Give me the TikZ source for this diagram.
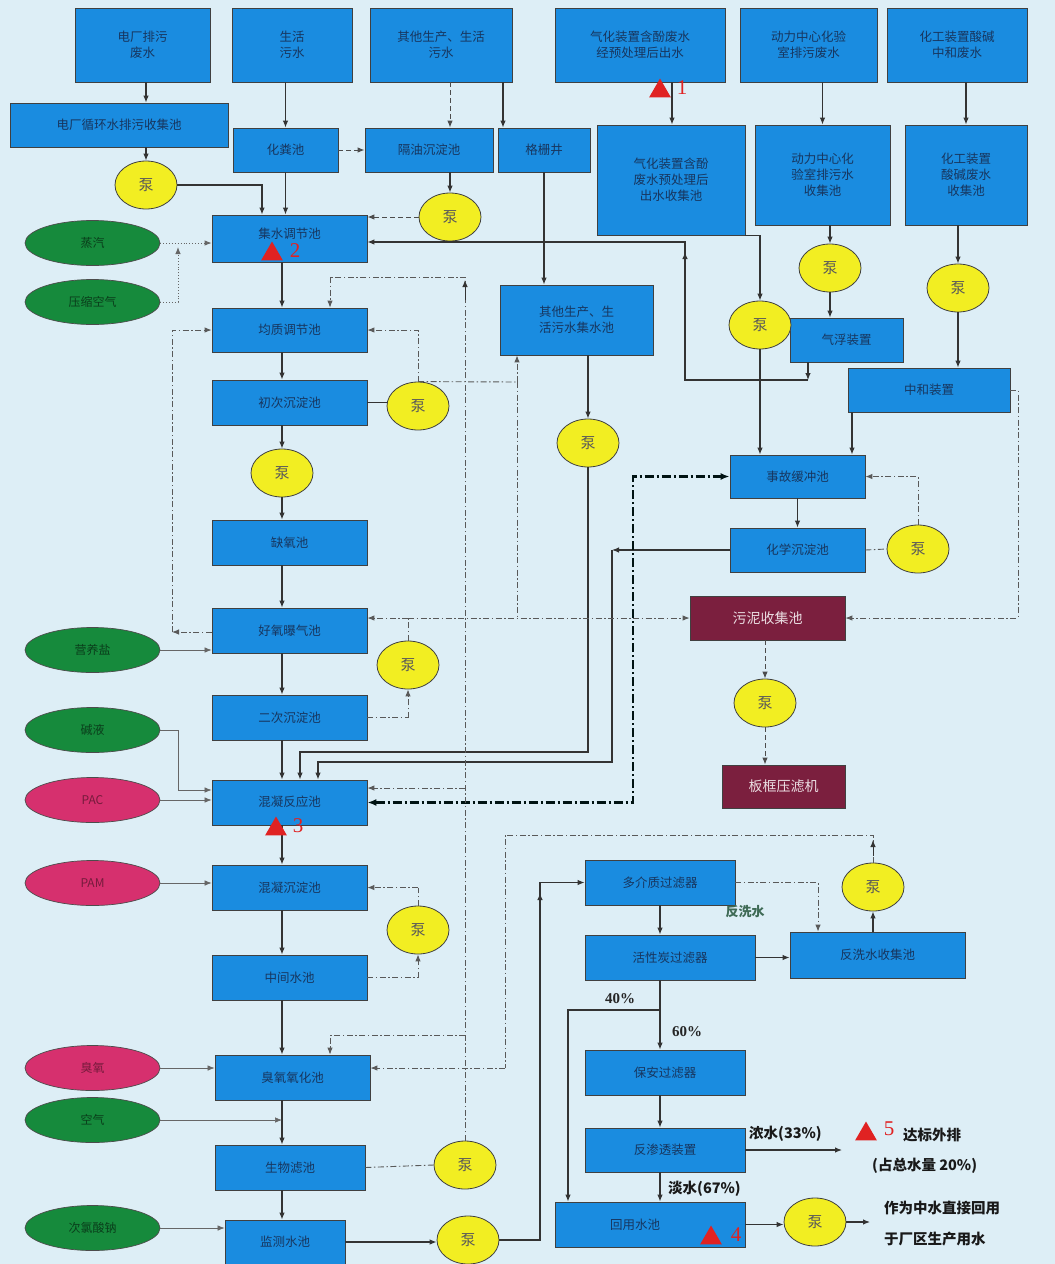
\documentclass[tikz,border=0pt]{standalone}
\usepackage{fontspec}
\setmainfont{Noto Sans CJK SC}
\newfontfamily\lser{Liberation Serif}
\usetikzlibrary{arrows.meta,shapes.geometric,calc}
\definecolor{bg}{HTML}{DDEEF6}
\definecolor{boxblue}{HTML}{1A8CE0}
\definecolor{boxtext}{HTML}{17365F}
\definecolor{pumpy}{HTML}{F2EE22}
\definecolor{ovg}{HTML}{168A3C}
\definecolor{ovp}{HTML}{D6306E}
\definecolor{sludgec}{HTML}{7B1F3E}
\definecolor{lncol}{HTML}{333333}
\definecolor{mkred}{HTML}{E02222}
\definecolor{fxs}{HTML}{3E6A55}
\newcommand{\bx}[6]{\node[box, minimum width=#4pt, minimum height=#5pt] (#1) at (#2,#3) {#6};}
\newcommand{\pp}[3]{\node[pump] (#1) at (#2,#3) {泵};}
\newcommand{\ovg}[4]{\node[ovalg] (#1) at (#2,#3) {#4};}
\newcommand{\ovp}[4]{\node[ovalp] (#1) at (#2,#3) {#4};}
\begin{document}
\begin{tikzpicture}[x=1pt,y=-1pt,
 box/.style={draw=black!75, line width=0.8pt, fill=boxblue, text=boxtext, font=\fontsize{12.5}{16}\selectfont, align=center, inner sep=1pt},
 pump/.style={ellipse, draw=black!75, line width=0.8pt, fill=pumpy, minimum width=62pt, minimum height=48pt, inner sep=0pt, font=\fontsize{15}{15}\selectfont, text=black!65},
 ovalg/.style={ellipse, draw=black!70, line width=0.7pt, fill=ovg, minimum width=135pt, minimum height=45pt, inner sep=0pt, text=black!55!ovg, font=\fontsize{12}{14}\selectfont},
 ovalp/.style={ellipse, draw=black!70, line width=0.7pt, fill=ovp, minimum width=135pt, minimum height=45pt, inner sep=0pt, text=black!45!ovp, font=\fontsize{12}{14}\selectfont},
 sludgebox/.style={draw=black!75, line width=0.8pt, fill=sludgec, text=white!85!sludgec, font=\fontsize{14}{16}\selectfont, inner sep=1pt},
 sl/.style={draw=lncol, line width=1.1pt},
 arr/.style={sl, -{Latex[length=7pt,width=5.5pt]}},
 thinarr/.style={draw=black!60, line width=0.7pt, -{Latex[length=7pt,width=5.5pt]}},
 dd/.style={draw=black!65, line width=0.9pt, dash pattern=on 6pt off 2.5pt on 1.5pt off 2.5pt},
 dda/.style={dd, -{Latex[length=7pt,width=5.5pt]}},
 dsha/.style={draw=black!70, line width=1pt, dash pattern=on 5pt off 3pt, -{Latex[length=7pt,width=5.5pt]}},
 dota/.style={draw=black!60, line width=0.9pt, dotted, -{Latex[length=7pt,width=5.5pt]}},
 hdd/.style={draw=black!85!teal, line width=2.2pt, dash pattern=on 9pt off 3pt on 2pt off 3pt},
 lbl/.style={font=\bfseries\fontsize{14.5}{16}\selectfont, text=black!90, inner sep=0pt},
 tri/.style={regular polygon, regular polygon sides=3, fill=mkred, inner sep=0pt, minimum size=25pt},
 num/.style={font=\lser\fontsize{21}{21}\selectfont, text=mkred, inner sep=0pt}
]
\fill[bg] (0,0) rectangle (1055,1264);
\useasboundingbox (0,0) rectangle (1055,1264);

% top row
\bx{T1}{142.5}{45}{135}{74}{电厂排污\\废水}
\bx{T2}{292}{45}{120}{74}{生活\\污水}
\bx{T3}{441}{45}{142}{74}{其他生产、生活\\污水}
\bx{T4}{640}{45}{170}{74}{气化装置含酚废水\\经预处理后出水}
\bx{T5}{808.5}{45}{137}{74}{动力中心化验\\室排污废水}
\bx{T6}{957}{45}{140}{74}{化工装置酸碱\\中和废水}
% second row
\bx{S1}{119}{125}{218}{44}{电厂循环水排污收集池}
\bx{S2}{285.5}{150}{105}{44}{化粪池}
\bx{S3}{429}{150}{128}{44}{隔油沉淀池}
\bx{S4}{544}{150}{92}{44}{格栅井}
\bx{S5}{671}{180}{148}{110}{气化装置含酚\\废水预处理后\\出水收集池}
\bx{S6}{822.5}{175}{135}{100}{动力中心化\\验室排污水\\收集池}
\bx{S7}{966}{175}{122}{100}{化工装置\\酸碱废水\\收集池}
% middle right
\bx{M1}{576.5}{320}{153}{70}{其他生产、生\\活污水集水池}
\bx{R1}{846.5}{340}{113}{44}{气浮装置}
\bx{R2}{929}{390}{162}{44}{中和装置}
\bx{R3}{797.5}{476.5}{135}{43}{事故缓冲池}
\bx{R4}{797.5}{550}{135}{44}{化学沉淀池}
\node[sludgebox, minimum width=155pt, minimum height=44pt] (U1) at (767.5,618) {污泥收集池};
\node[sludgebox, minimum width=123pt, minimum height=43pt] (U2) at (783.5,786.5) {板框压滤机};
% left column
\bx{L1}{289.5}{238.5}{155}{47}{\raisebox{10pt}{集水调节池}}
\bx{L2}{289.5}{330}{155}{44}{均质调节池}
\bx{L3}{289.5}{402.5}{155}{45}{初次沉淀池}
\bx{L4}{289.5}{542.5}{155}{45}{缺氧池}
\bx{L5}{289.5}{630.5}{155}{45}{好氧曝气池}
\bx{L6}{289.5}{717.5}{155}{45}{二次沉淀池}
\bx{L7}{289.5}{802.5}{155}{45}{\raisebox{3pt}{混凝反应池}}
\bx{L8}{289.5}{887.5}{155}{45}{混凝沉淀池}
\bx{L9}{289.5}{977.5}{155}{45}{中间水池}
\bx{L10}{292.5}{1077.5}{155}{45}{臭氧氧化池}
\bx{L11}{290}{1167.5}{150}{45}{生物滤池}
\bx{L12}{285}{1242}{120}{44}{监测水池}
% bottom right
\bx{B1}{660}{882.5}{150}{45}{多介质过滤器}
\bx{B2}{670}{957.5}{170}{45}{活性炭过滤器}
\bx{B3}{877.5}{955}{175}{46}{反洗水收集池}
\bx{B4}{665}{1072.5}{160}{45}{保安过滤器}
\bx{B5}{665}{1150}{160}{44}{反渗透装置}
\bx{B6}{650}{1224.5}{190}{45}{\hspace*{-30pt}回用水池}
% ovals
\ovg{O1}{92.5}{243}{蒸汽}
\ovg{O2}{92.5}{302}{压缩空气}
\ovg{O3}{92.5}{650}{营养盐}
\ovg{O4}{92.5}{730}{碱液}
\ovp{O5}{92.5}{800}{PAC}
\ovp{O6}{92.5}{883}{PAM}
\ovp{O7}{92.5}{1068}{臭氧}
\ovg{O8}{92.5}{1120}{空气}
\ovg{O9}{92.5}{1228}{次氯酸钠}
% pumps
\pp{P1}{146}{185}
\pp{P2}{450}{217}
\pp{P3}{830}{268}
\pp{P4}{958}{288}
\pp{P5}{760}{325}
\pp{P6}{418}{406}
\pp{P7}{282}{473}
\pp{P8}{588}{443}
\pp{P9}{918}{549}
\pp{P10}{408}{665}
\pp{P11}{765}{703}
\pp{P12}{418}{930}
\pp{P13}{873}{887}
\pp{P14}{465}{1165}
\pp{P15}{468}{1240}
\pp{P16}{815}{1222}

% ---- top connectors
\draw[arr] (T1.south -| P1) -- (S1.north -| P1);
\draw[arr] (S1.south -| P1) -- (P1.north);
\draw[arr] (P1.east) -| (L1.north -| 262,0);
\draw[arr] (T2.south -| S2) -- (S2.north);
\draw[arr] (S2.south) -- (L1.north -| S2);
\draw[dsha] (S2.east) -- (S3.west);
\draw[dsha] (T3.south -| P2) -- (S3.north -| P2);
\draw[arr] (T3.south -| 503,0) -- (S4.north -| 503,0);
\draw[arr] (S3.south -| P2) -- (P2.north);
\draw[dsha] (P2.west) -- (P2.west -| L1.east);
\draw[arr] (T4.south -| 672,0) -- (S5.north -| 672,0);
\draw[arr] (T5.south -| S6) -- (S6.north);
\draw[arr] (T6.south -| S7) -- (S7.north);
\draw[arr] (S6.south -| P3) -- (P3.north);
\draw[arr] (P3.south) -- (R1.north -| P3);
\draw[arr] (S7.south -| P4) -- (P4.north);
\draw[arr] (P4.south) -- (R2.north -| P4);
\draw[arr] (S5.south east) -| (P5.north);
\draw[arr] (P5.south) -- (R3.north -| P5);
\draw[arr] (R2.south -| 852,0) -- (R3.north -| 852,0);
\draw[arr] (R3.south) -- (R4.north);
% return from R1 to L1
\coordinate (j1) at (685,242);
\draw[arr] (R1.south -| 808,0) -- (808,380);
\draw[arr] (808,380) -- (685,380) -- (j1) -- (j1 -| L1.east);
\draw[arr] (685,300) -- (685,252);
% S4 -> M1 -> P8 -> L7
\draw[arr] (S4.south) -- (M1.north -| S4);
\draw[arr] (M1.south -| P8) -- (P8.north);
\draw[arr] (P8.south) -- (588,752) -- (300,752) -- (L7.north -| 300,0);
\draw[arr] (R4.west) -- (612,550);
\draw[arr] (612,550) -- (612,762) -- (318,762) -- (L7.north -| 318,0);
% right side sludge
\draw[dd] (R4.east) -- (P9.west);
\draw[dda] (P9.north) |- (R3.east);
\draw[dda] (R2.east) -- (1018,390) -- (1018,618) -- (U1.east);
\draw[dsha] (U1.south -| P11) -- (P11.north);
\draw[dsha] (P11.south) -- (U2.north -| P11);
% heavy dash-dot
\draw[hdd, {Latex[length=9pt,width=7pt]}-{Latex[length=9pt,width=7pt]}] (L7.east) -- (633,802.5) -- (633,476.5) -- (R3.west);

% ---- left column main flow
\draw[arr] (L1.south -| 282,0) -- (L2.north -| 282,0);
\draw[arr] (L2.south -| 282,0) -- (L3.north -| 282,0);
\draw[arr] (L3.south -| P7) -- (P7.north);
\draw[arr] (P7.south) -- (L4.north -| P7);
\draw[arr] (L4.south -| 282,0) -- (L5.north -| 282,0);
\draw[arr] (L5.south -| 282,0) -- (L6.north -| 282,0);
\draw[arr] (L6.south -| 282,0) -- (L7.north -| 282,0);
\draw[arr] (L7.south -| 282,0) -- (L8.north -| 282,0);
\draw[arr] (L8.south -| 282,0) -- (L9.north -| 282,0);
\draw[arr] (L9.south -| 282,0) -- (L10.north -| 282,0);
\draw[arr] (L10.south -| 282,0) -- (L11.north -| 282,0);
\draw[arr] (L11.south -| 282,0) -- (L12.north -| 282,0);
\draw[arr] (L12.east) -- (L12.east -| P15.west);
\draw[arr] (P15.east) -- (540,1240) -- (540,882.5) -- (B1.west);
\draw[arr] (540,930) -- (540,893);

% left return network
\draw[sl, line width=0.8pt] (L3.east) -- (L3.east -| P6.west);
\draw[dda] (P6.north) -- (418,330) -- (L2.east);
\draw[dd] (P6.north) -- (517,382);
\draw[dda] (517,382) -- (M1.south -| 517,0);
\draw[dd] (517,382) -- (517,618);
\draw[dd] (P14.north) -- (465,277) -- (330,277);
\draw[dda] (330,277) -- (L2.north -| 330,0);
\draw[arr, line width=0.9pt] (465,300) -- (465,280);
\draw[dda] (465,788) -- (L7.east |- 0,788);
\draw[dda] (465,1035) -- (330,1035) -- (L10.north -| 330,0);
\draw[dd] (L6.east) -- (408,717.5);
\draw[dda] (408,717.5) -- (P10.south);
\draw[dd] (P10.north) -- (408,618);
\draw[dda] (408,618) -- (L5.east |- 0,618);
\draw[dda] (408,618) -- (U1.west);
\draw[dda] (L5.west |- 0,632) -- (172,632);
\draw[dda] (172,632) -- (172,330) -- (L2.west);
\draw[dd] (L9.east) -- (418,977.5);
\draw[dda] (418,977.5) -- (P12.south);
\draw[dd] (P12.north) -- (418,887.5);
\draw[dda] (418,887.5) -- (L8.east);
\draw[dd] (L11.east) -- (P14.west);

% ovals
\draw[dota] (O1.east) -- (O1.east -| L1.west);
\draw[dota] (O2.east) -- (178,302) -- (178,247);
\draw[thinarr] (O3.east) -- (O3.east -| L5.west);
\draw[thinarr] (O4.east) -- (178,730) -- (178,790) -- (L7.west |- 0,790);
\draw[thinarr] (O5.east) -- (O5.east -| L7.west);
\draw[thinarr] (O6.east) -- (O6.east -| L8.west);
\draw[thinarr] (O7.east) -- (O7.east -| L10.west);
\draw[thinarr] (O8.east) -- (282,1120);
\draw[thinarr] (O9.east) -- (O9.east -| L12.west);

% ---- bottom right
\draw[dda] (B1.east) -- (818,882.5) -- (B3.north -| 818,0);
\node[font=\bfseries\fontsize{13}{15}\selectfont, text=fxs] (fx) at (745,912) {反洗水};
\draw[arr] (B1.south) -- (B2.north -| B1);
\draw[arr] (B2.east) -- (B2.east -| B3.west);
\draw[arr] (B3.north -| P13) -- (P13.south);
\draw[dd] (P13.north) -- (873,835) -- (505,835) -- (505,1068);
\draw[dda] (505,1068) -- (L10.east |- 0,1068);
\draw[arr, line width=0.9pt] (873,856) -- (873,840);
\draw[sl] (B2.south -| 660,0) -- (660,1010);
\draw[arr] (660,1010) -- (B4.north -| 660,0);
\draw[arr] (660,1010) -- (568,1010) -- (B6.north -| 568,0);
\draw[arr] (B4.south -| 660,0) -- (B5.north -| 660,0);
\draw[arr] (B5.south -| 660,0) -- (B6.north -| 660,0);
\coordinate (c5) at (842,1150);
\draw[arr] (B5.east) -- (c5);
\draw[arr] (B6.east) -- (B6.east -| P16.west);
\coordinate (c6) at (870,1222);
\draw[arr] (P16.east) -- (c6);

% labels
\node[font=\lser\bfseries\fontsize{15}{15}\selectfont, text=black!85] (l40) at (620,999) {40\%};
\node[font=\lser\bfseries\fontsize{15}{15}\selectfont, text=black!85] (l60) at (687,1032) {60\%};
\node[lbl, anchor=west] (lnong) at (749,1134) {浓水(33\%)};
\node[lbl, anchor=west] (ldan) at (668,1189) {淡水(67\%)};
\node[lbl, anchor=west] (lpai) at (903,1135) {达标外排};
\node[lbl, anchor=west] (lzhan) at (872,1166) {(占总水量 20\%)};
\node[lbl, anchor=west] (lz1) at (884,1208) {作为中水直接回用};
\node[lbl, anchor=west] (lz2) at (884,1239) {于厂区生产用水};

% markers
\node[tri] (m1) at (660,91) {};\node[num] (n1) at (682,88) {1};
\node[tri] (m2) at (272,254) {};\node[num] (n2) at (295,251) {2};
\node[tri] (m3) at (276,829) {};\node[num] (n3) at (298,826) {3};
\node[tri] (m4) at (711,1238) {};\node[num] (n4) at (736,1235) {4};
\node[tri] (m5) at (866,1134) {};\node[num] (n5) at (889,1129) {5};
\end{tikzpicture}
\end{document}
